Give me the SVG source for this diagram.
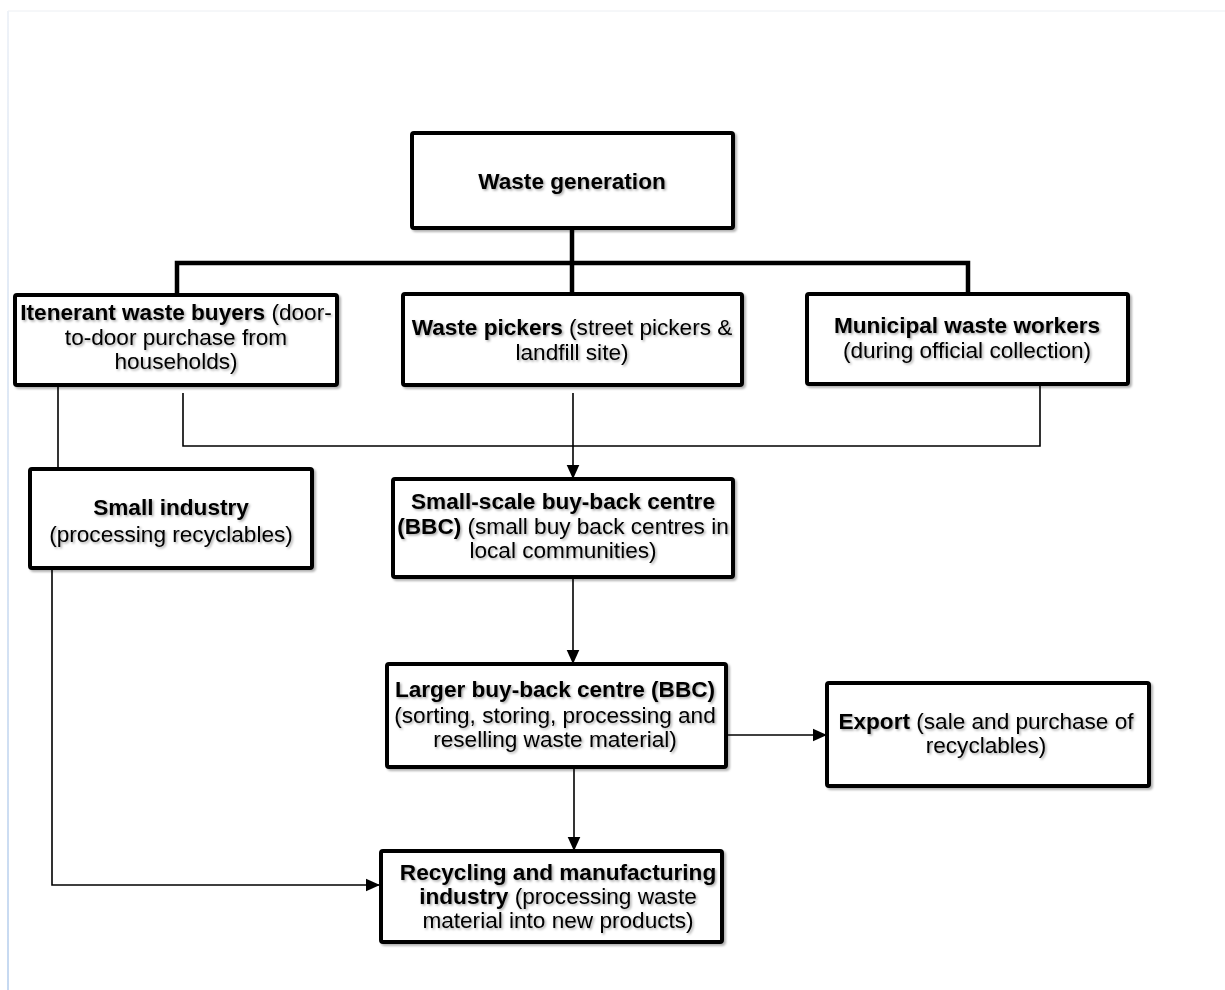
<svg xmlns="http://www.w3.org/2000/svg" width="1225" height="990" viewBox="0 0 1225 990">
<defs>
<style>
.box{fill:#fff;stroke:#000;stroke-width:4;filter:url(#sh)}
.t{font-family:"Liberation Sans",Arial,sans-serif;font-size:22.6px;fill:#000;text-anchor:middle;filter:url(#tsh)}
.b{font-weight:bold}
.thick{stroke:#000;stroke-width:4.5;fill:none}
.thin{stroke:#000;stroke-width:1.6;fill:none}
</style>
<filter id="sh" x="-5%" y="-5%" width="115%" height="120%">
<feDropShadow dx="2" dy="2" stdDeviation="1" flood-color="#000" flood-opacity="0.3"/>
</filter>
<filter id="tsh" x="-5%" y="-20%" width="115%" height="150%">
<feDropShadow dx="1.5" dy="1.5" stdDeviation="1" flood-color="#000" flood-opacity="0.35"/>
</filter>
<marker id="ah2" viewBox="0 0 10 10" refX="10" refY="5" markerWidth="14" markerHeight="14" markerUnits="userSpaceOnUse" orient="auto">
<path d="M0,0.5 L10,5 L0,9.5 z" fill="#000"/>
</marker>
<linearGradient id="lg" x1="0" y1="0" x2="0" y2="1">
<stop offset="0" stop-color="#eef2f8"/>
<stop offset="1" stop-color="#c6d9f1"/>
</linearGradient>
</defs>
<rect width="1225" height="990" fill="#fff"/>
<g id="page">
<line x1="8" y1="11" x2="1225" y2="11" stroke="#eceff3" stroke-width="1"/>
<rect x="7" y="11" width="2" height="979" fill="url(#lg)"/>
</g>
<g id="connectors">
<line class="thick" x1="572" y1="228" x2="572" y2="263"/>
<polyline class="thick" points="177,295 177,263 968,263 968,295"/>
<line class="thick" x1="572" y1="263" x2="572" y2="294"/>
<line class="thin" x1="58" y1="385" x2="58" y2="469"/>
<polyline class="thin" points="183,393 183,446 1040,446 1040,378"/>
<line class="thin" x1="573" y1="393" x2="573" y2="479" marker-end="url(#ah2)"/>
<line class="thin" x1="573" y1="577" x2="573" y2="664" marker-end="url(#ah2)"/>
<line class="thin" x1="726" y1="735" x2="827" y2="735" marker-end="url(#ah2)"/>
<line class="thin" x1="574" y1="762" x2="574" y2="851" marker-end="url(#ah2)"/>
<polyline class="thin" points="52,568 52,885 380,885" marker-end="url(#ah2)"/>
</g>
<g id="n-waste-generation">
<rect class="box" x="412" y="133" width="321" height="95" rx="2"/>
<text class="t b" x="572" y="189">Waste generation</text>
</g>
<g id="n-itenerant">
<rect class="box" x="15" y="295" width="322" height="90" rx="2"/>
<text class="t" x="176" y="320"><tspan class="b">Itenerant waste buyers</tspan> (door-</text>
<text class="t" x="176" y="345">to-door purchase from</text>
<text class="t" x="176" y="369">households)</text>
</g>
<g id="n-waste-pickers">
<rect class="box" x="403" y="294" width="339" height="91" rx="2"/>
<text class="t" x="572" y="335"><tspan class="b">Waste pickers</tspan> (street pickers &amp;</text>
<text class="t" x="572" y="360">landfill site)</text>
</g>
<g id="n-municipal">
<rect class="box" x="807" y="294" width="321" height="90" rx="2"/>
<text class="t b" x="967" y="333">Municipal waste workers</text>
<text class="t" x="967" y="358">(during official collection)</text>
</g>
<g id="n-small-industry">
<rect class="box" x="30" y="469" width="282" height="99" rx="2"/>
<text class="t b" x="171" y="515">Small industry</text>
<text class="t" x="171" y="542">(processing recyclables)</text>
</g>
<g id="n-small-bbc">
<rect class="box" x="393" y="479" width="340" height="98" rx="2"/>
<text class="t b" x="563" y="509">Small-scale buy-back centre</text>
<text class="t" x="563" y="534"><tspan class="b">(BBC)</tspan> (small buy back centres in</text>
<text class="t" x="563" y="558">local communities)</text>
</g>
<g id="n-larger-bbc">
<rect class="box" x="387" y="664" width="339" height="103" rx="2"/>
<text class="t b" x="555" y="697">Larger buy-back centre (BBC)</text>
<text class="t" x="555" y="723">(sorting, storing, processing and</text>
<text class="t" x="555" y="747">reselling waste material)</text>
</g>
<g id="n-export">
<rect class="box" x="827" y="683" width="322" height="103" rx="2"/>
<text class="t" x="986" y="729"><tspan class="b">Export</tspan> (sale and purchase of</text>
<text class="t" x="986" y="753">recyclables)</text>
</g>
<g id="n-recycling">
<rect class="box" x="381" y="851" width="341" height="91" rx="2"/>
<text class="t b" x="558" y="880">Recycling and manufacturing</text>
<text class="t" x="558" y="904"><tspan class="b">industry</tspan> (processing waste</text>
<text class="t" x="558" y="928">material into new products)</text>
</g>
</svg>
